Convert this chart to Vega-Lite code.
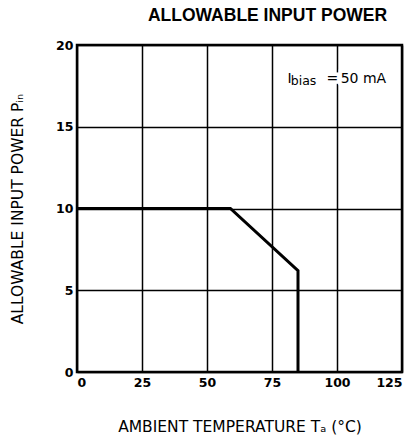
{
  "$schema": "https://vega.github.io/schema/vega-lite/v6.json",
  "autosize": "none",
  "width": 325,
  "height": 327,
  "padding": {"left": 77, "top": 45, "right": 17, "bottom": 73},
  "background": "white",
  "title": {
    "text": "ALLOWABLE INPUT POWER",
    "font": "Liberation Sans",
    "fontSize": 17.5,
    "fontWeight": "bold",
    "color": "black",
    "anchor": "middle",
    "dx": 28,
    "offset": 15
  },
  "config": {
    "view": {"stroke": "black", "strokeWidth": 2.5},
    "axis": {
      "grid": true,
      "gridColor": "black",
      "gridWidth": 1.5,
      "gridOpacity": 1,
      "domain": false,
      "ticks": false,
      "labelFont": "DejaVu Sans",
      "labelFontSize": 12.5,
      "labelFontWeight": "bold",
      "labelColor": "black",
      "titleFont": "DejaVu Sans",
      "titleFontSize": 15.5,
      "titleFontWeight": "normal",
      "titleColor": "black"
    }
  },
  "layer": [
    {
      "data": {"values": [
        {"t": 0, "p": 10},
        {"t": 59, "p": 10},
        {"t": 85, "p": 6.2},
        {"t": 85, "p": 0}
      ]},
      "mark": {"type": "line", "color": "black", "strokeWidth": 3, "strokeJoin": "miter"},
      "encoding": {
        "x": {"field": "t", "type": "quantitative",
              "scale": {"domain": [0, 125], "nice": false},
              "axis": {"values": [0, 25, 50, 75, 100, 125], "labelPadding": 4,
                       "title": "AMBIENT TEMPERATURE Tₐ (°C)", "titlePadding": 31}},
        "y": {"field": "p", "type": "quantitative",
              "scale": {"domain": [0, 20], "nice": false},
              "axis": {"values": [0, 5, 10, 15, 20], "labelPadding": 4,
                       "title": "ALLOWABLE INPUT POWER Pᵢₙ", "titlePadding": 30}},
        "order": {"field": "t"}
      }
    },
    {
      "data": {"name": "note", "values": [
        {"t": 81.0, "p": 17.68, "label": "I", "size": "main"},
        {"t": 82.2, "p": 17.55, "label": "bias", "size": "sub"},
        {"t": 96.0, "p": 17.68, "label": "=", "size": "main"},
        {"t": 101.4, "p": 17.68, "label": "50 mA", "size": "main"}
      ]},
      "layer": [
        {
          "mark": {"type": "text", "align": "left", "baseline": "alphabetic", "font": "DejaVu Sans", "color": "white", "stroke": "white", "strokeWidth": 7},
          "encoding": {
            "x": {"field": "t", "type": "quantitative"},
            "y": {"field": "p", "type": "quantitative"},
            "text": {"field": "label"},
            "size": {"field": "size", "type": "nominal", "scale": {"domain": ["main", "sub"], "range": [14, 12.5]}, "legend": null}
          }
        },
        {
          "mark": {"type": "text", "align": "left", "baseline": "alphabetic", "font": "DejaVu Sans", "color": "black"},
          "encoding": {
            "x": {"field": "t", "type": "quantitative"},
            "y": {"field": "p", "type": "quantitative"},
            "text": {"field": "label"},
            "size": {"field": "size", "type": "nominal", "scale": {"domain": ["main", "sub"], "range": [14, 12.5]}, "legend": null}
          }
        }
      ]
    }
  ]
}
